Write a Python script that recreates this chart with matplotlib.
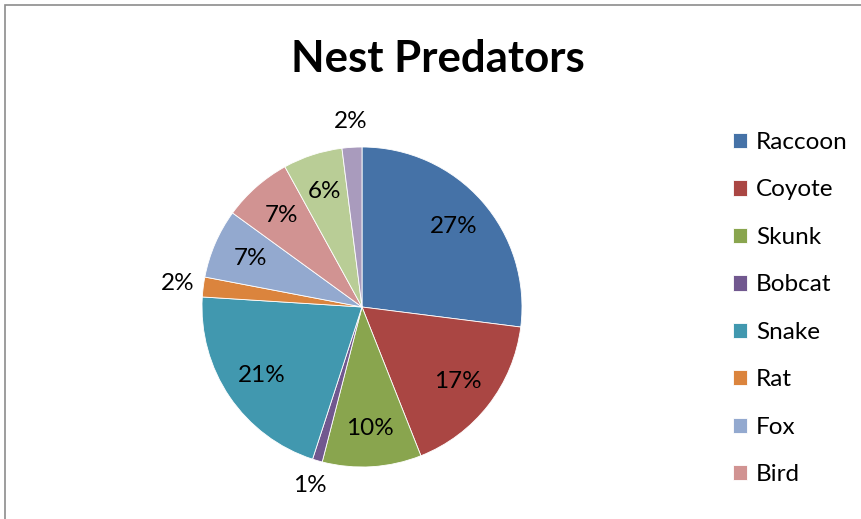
import numpy as np
import matplotlib
matplotlib.use("Agg")
import matplotlib.pyplot as plt
from matplotlib.patches import Rectangle

plt.rcParams["font.family"] = ["Lato", "DejaVu Sans"]

# slice order as in the chart (clockwise from 12 o'clock)
predators = ["Raccoon", "Coyote", "Skunk", "Bobcat", "Snake", "Rat", "Fox", "Bird",
             "Opossum", "Other"]
shares = [27, 17, 10, 1, 21, 2, 7, 7, 6, 2]
colors = ["#4572A7", "#AA4643", "#89A54E", "#71588F", "#4198AF",
          "#DB843D", "#93A9CF", "#D19392", "#B9CD96", "#A99BBD"]
n_legend = 8  # only the first 8 entries fit in the legend box

W, H = 861, 519
fig = plt.figure(figsize=(W / 100, H / 100), dpi=100)

# chart frame (cropped on right and bottom)
fig.patches.append(Rectangle((5 / W, -0.05), 1.2, 1 - 5 / H + 0.05,
                             transform=fig.transFigure, fill=False,
                             edgecolor="#8c8c8c", linewidth=1.2))

cx, cy, r = 362, 307, 162
half = 200
ax = fig.add_axes([(cx - half) / W, (H - cy - half) / H, 2 * half / W, 2 * half / H])
lim = half / r
ax.set_xlim(-lim, lim)
ax.set_ylim(-lim, lim)
ax.set_aspect("equal")
ax.axis("off")

wedges, texts, autotexts = ax.pie(
    shares, colors=colors, startangle=90, counterclock=False, radius=1,
    autopct=lambda p: f"{p:.0f}%", pctdistance=0.76,
    wedgeprops=dict(edgecolor="white", linewidth=0.6),
    textprops=dict(fontsize=17.5, color="black"),
)

# small slices get their labels outside
for w, t, s in zip(wedges, autotexts, shares):
    if s < 3:
        ang = np.deg2rad((w.theta1 + w.theta2) / 2)
        d = 1.16
        t.set_position((d * np.cos(ang), d * np.sin(ang)))

fig.text(438 / W, 1 - 59 / H, "Nest Predators", ha="center", va="center",
         fontsize=31.5, fontweight="bold")

fig.legend(wedges[:n_legend], predators[:n_legend], loc="upper left",
           bbox_to_anchor=(711 / W, 1 - 110 / H), frameon=False, fontsize=17.5,
           handlelength=0.6, handleheight=0.6, handletextpad=0.35,
           labelspacing=1.09)

fig.savefig("out.png", dpi=100)
